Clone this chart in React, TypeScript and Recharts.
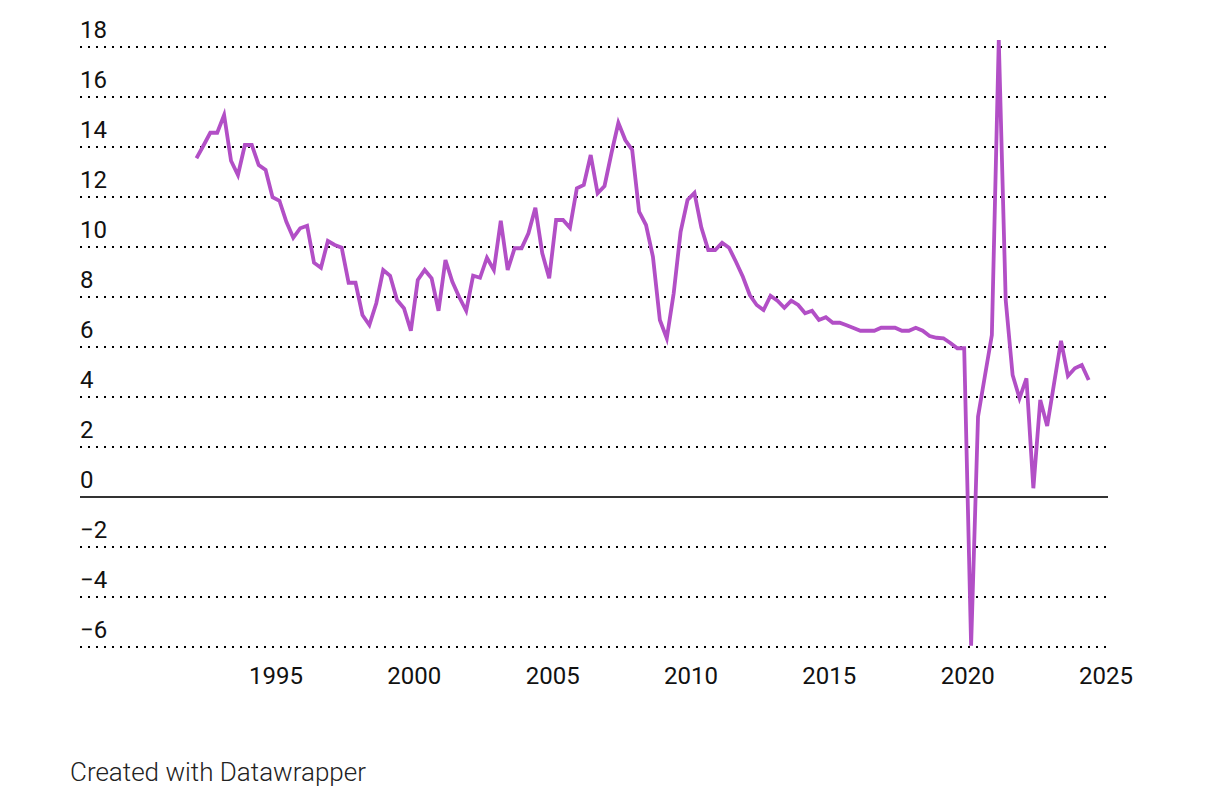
import { LineChart, Line, XAxis, YAxis, ReferenceLine } from 'recharts';

// quarterly values, 1992 Q1 .. 2024 Q2
const START_YEAR = 1992;
const VALUES = [
  13.55, 14.05, 14.57, 14.57, 15.28, 13.45, 12.88, 14.08, 14.08, 13.28,
  13.08, 11.99, 11.85, 11.01, 10.37, 10.75, 10.85, 9.37, 9.17, 10.24,
  10.08, 9.97, 8.57, 8.57, 7.28, 6.88, 7.75, 9.08, 8.85, 7.88,
  7.55, 6.65, 8.68, 9.08, 8.75, 7.45, 9.48, 8.61, 7.99, 7.45,
  8.85, 8.77, 9.57, 9.08, 11.05, 9.08, 9.95, 9.95, 10.55, 11.57,
  9.75, 8.75, 11.08, 11.08, 10.77, 12.35, 12.48, 13.68, 12.15, 12.44,
  13.75, 14.97, 14.28, 13.88, 11.41, 10.88, 9.61, 7.08, 6.35, 8.15,
  10.61, 11.88, 12.16, 10.78, 9.88, 9.88, 10.17, 9.97, 9.41, 8.81,
  8.08, 7.68, 7.48, 8.05, 7.85, 7.57, 7.85, 7.68, 7.35, 7.45,
  7.08, 7.19, 6.97, 6.97, 6.87, 6.76, 6.65, 6.65, 6.65, 6.77,
  6.77, 6.77, 6.65, 6.65, 6.77, 6.65, 6.44, 6.37, 6.35, 6.16,
  5.95, 5.95, -5.95, 3.21, 4.85, 6.48, 18.28, 7.88, 4.88, 3.95,
  4.75, 0.35, 3.88, 2.84, 4.55, 6.25, 4.84, 5.15, 5.28, 4.68,
];

const X_TICKS = [1995, 2000, 2005, 2010, 2015, 2020, 2025];
const Y_TICKS = [-6, -4, -2, 0, 2, 4, 6, 8, 10, 12, 14, 16, 18];
const GRID_VALUES = [-6, -4, -2, 2, 4, 6, 8, 10, 12, 14, 16, 18];

const data = VALUES.map((value, i) => ({
  quarter: `${START_YEAR + Math.floor(i / 4)} Q${(i % 4) + 1}`,
  t: START_YEAR + 0.125 + i * 0.25,
  value,
}));

const FONT = 'Roboto, "Noto Sans", sans-serif';
const PLOT_LEFT = 80;

const YTick = ({ y, payload }: any) => (
  <text x={PLOT_LEFT} y={y - 9} fontSize={24} fill="#111" fontFamily={FONT} textAnchor="start">
    {payload.value < 0 ? `\u2212${Math.abs(payload.value)}` : payload.value}
  </text>
);

const XTick = ({ x, y, payload }: any) => (
  <text x={x} y={y} dy={29} fontSize={24} fill="#111" fontFamily={FONT} textAnchor="middle">
    {payload.value}
  </text>
);

export default function App() {
  return (
    <div
      style={{
        position: 'absolute',
        left: 0,
        top: 0,
        width: 1220,
        height: 798,
        background: '#fff',
        fontFamily: FONT,
      }}
    >
      <LineChart
        width={1220}
        height={700}
        data={data}
        margin={{ top: 37, right: 112, bottom: 0, left: 0 }}
      >
        {GRID_VALUES.map((v) => (
          <ReferenceLine
            key={v}
            y={v}
            stroke="#000"
            strokeWidth={2}
            strokeDasharray="2 6"
          />
        ))}
        <ReferenceLine y={0} stroke="#333" strokeWidth={1.8} />
        <XAxis
          dataKey="t"
          type="number"
          domain={[1987.916, 2025.073]}
          ticks={X_TICKS}
          axisLine={false}
          tickLine={false}
          height={53}
          tick={<XTick />}
          interval={0}
          allowDataOverflow
        />
        <YAxis
          type="number"
          domain={[-6, 18.4]}
          ticks={Y_TICKS}
          axisLine={false}
          tickLine={false}
          width={PLOT_LEFT}
          tick={<YTick />}
          interval={0}
        />
        <Line
          type="linear"
          dataKey="value"
          stroke="#b24fc6"
          strokeWidth={3.8}
          dot={false}
          activeDot={false}
          isAnimationActive={false}
        />
      </LineChart>
      <div
        style={{
          position: 'absolute',
          left: 70,
          top: 759,
          fontSize: 26,
          fontWeight: 300,
          lineHeight: '26px',
          color: '#222',
          fontFamily: FONT,
          whiteSpace: 'nowrap',
        }}
      >
        Created with Datawrapper
      </div>
    </div>
  );
}
